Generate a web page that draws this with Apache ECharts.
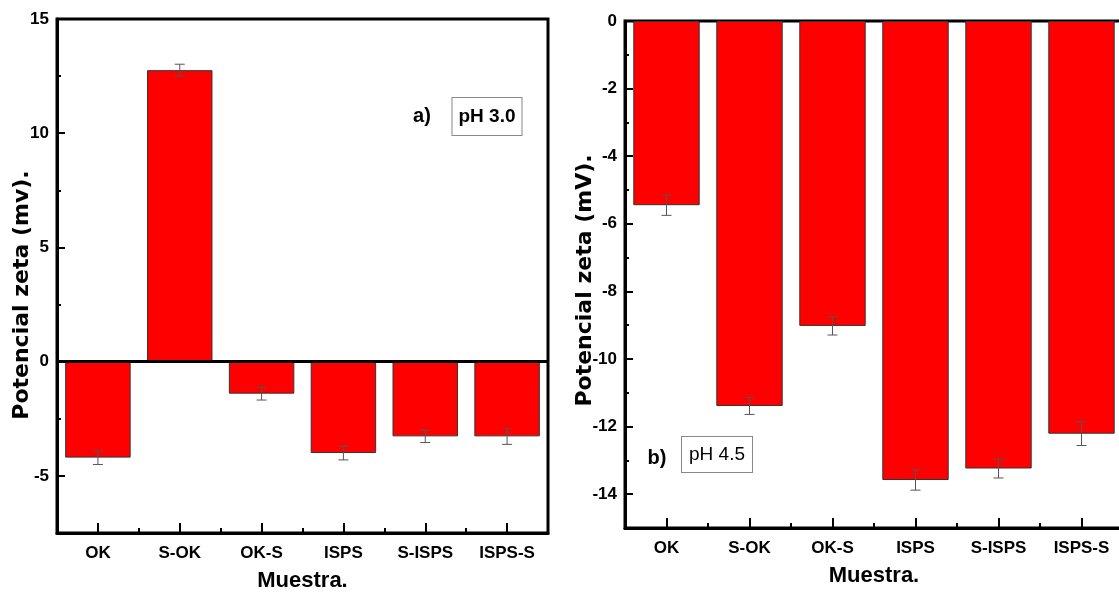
<!DOCTYPE html>
<html>
<head>
<meta charset="utf-8">
<script src="https://cdn.jsdelivr.net/npm/echarts@6/dist/echarts.min.js"></script>
<style>
html,body{margin:0;padding:0;background:#fff;}
#chart{width:1119px;height:597px;}
</style>
</head>
<body>
<div id="chart"></div>
<script>
// ---- data ----
const categories = ['OK', 'S-OK', 'OK-S', 'ISPS', 'S-ISPS', 'ISPS-S'];
const zetaPH30 = [-4.2, 12.76, -1.4, -4.0, -3.27, -3.27];
const errPH30  = [0.3, 0.26, 0.28, 0.3, 0.27, 0.35];
const zetaPH45 = [-5.45, -11.39, -9.02, -13.58, -13.24, -12.21];
const errPH45  = [0.3, 0.25, 0.27, 0.3, 0.28, 0.35];
const yTicksA = [-5, 0, 5, 10, 15];
const yTicksB = [0, -2, -4, -6, -8, -10, -12, -14];

const NARROW = '"Liberation Sans",Arial,sans-serif';
const WIDE = '"DejaVu Sans",Verdana,sans-serif';

const chart = echarts.init(document.getElementById('chart'), null, {renderer: 'canvas'});

function errRender(params, api) {
  const x = api.value(0), v = api.value(1), e = api.value(2);
  const hi = api.coord([x, v + e]);
  const lo = api.coord([x, v - e]);
  const h = 5;
  const st = {stroke: '#555', lineWidth: 1};
  return {type: 'group', children: [
    {type: 'line', shape: {x1: hi[0], y1: hi[1], x2: lo[0], y2: lo[1]}, style: st},
    {type: 'line', shape: {x1: hi[0] - h, y1: hi[1], x2: hi[0] + h, y2: hi[1]}, style: st},
    {type: 'line', shape: {x1: lo[0] - h, y1: lo[1], x2: lo[0] + h, y2: lo[1]}, style: st}
  ]};
}

function catAxes(gi) {
  return [
    {
      type: 'category', gridIndex: gi, data: categories, position: 'bottom',
      axisLine: {show: true, onZero: false, lineStyle: {color: '#000', width: 3}},
      axisTick: {show: true, inside: true, alignWithLabel: true, length: 10, lineStyle: {color: '#000', width: 2}},
      axisLabel: {color: '#000', fontFamily: NARROW, fontWeight: 'bold', fontSize: 17, margin: 12},
      name: 'Muestra.', nameLocation: 'middle', nameGap: 37, nameMoveOverlap: false,
      nameTextStyle: {color: '#000', fontFamily: NARROW, fontWeight: 'bold', fontSize: 22},
      splitLine: {show: false}
    },
    {
      type: 'category', gridIndex: gi, data: categories, position: 'bottom',
      axisLine: {show: false, onZero: false},
      axisTick: {show: true, inside: true, alignWithLabel: false, interval: 0, length: 5, lineStyle: {color: '#000', width: 2}},
      axisLabel: {show: false}, splitLine: {show: false}
    }
  ];
}

const option = {
  animation: false,
  backgroundColor: '#fff',
  grid: [
    {left: 57, top: 19, width: 491, height: 514, show: true, borderColor: '#000', borderWidth: 3,
     backgroundColor: 'transparent', outerBoundsMode: 'none'},
    {left: 625, top: 21, width: 498, height: 507, show: true, borderColor: '#000', borderWidth: 3,
     backgroundColor: 'transparent', outerBoundsMode: 'none'}
  ],
  xAxis: catAxes(0).concat(catAxes(1)),
  yAxis: [
    { // left chart: labels + major ticks
      type: 'value', gridIndex: 0, position: 'left', min: -7.5, max: 15, minInterval: 5, maxInterval: 5,
      axisLine: {show: true, lineStyle: {color: '#000', width: 3}},
      axisTick: {show: true, inside: true, length: 8, lineStyle: {color: '#000', width: 2}},
      axisLabel: {color: '#000', fontFamily: NARROW, fontWeight: 'bold', fontSize: 17, margin: 8,
        showMinLabel: false, formatter: v => yTicksA.includes(v) ? String(v) : ''},
      splitLine: {show: false},
      name: 'Potencial zeta (mv).', nameLocation: 'middle', nameGap: 24, nameRotate: 90, nameMoveOverlap: false,
      nameTextStyle: {color: '#000', fontFamily: WIDE, fontWeight: 'bold', fontSize: 22, padding: [0, 38, 0, 0]}
    },
    { // left chart: minor ticks
      type: 'value', gridIndex: 0, position: 'left', min: -7.5, max: 15, interval: 2.5,
      axisLine: {show: false}, axisLabel: {show: false}, splitLine: {show: false},
      axisTick: {show: true, inside: true, length: 4, lineStyle: {color: '#000', width: 2}}
    },
    { // right chart: labels + major ticks
      type: 'value', gridIndex: 1, position: 'left', min: -15, max: 0, minInterval: 2, maxInterval: 2,
      axisLine: {show: true, lineStyle: {color: '#000', width: 3}},
      axisTick: {show: true, inside: true, length: 8, lineStyle: {color: '#000', width: 2}},
      axisLabel: {color: '#000', fontFamily: NARROW, fontWeight: 'bold', fontSize: 17, margin: 8,
        showMinLabel: false, formatter: v => yTicksB.includes(v) ? String(v) : ''},
      splitLine: {show: false},
      name: 'Potencial zeta (mV).', nameLocation: 'middle', nameGap: 29, nameRotate: 90, nameMoveOverlap: false,
      nameTextStyle: {color: '#000', fontFamily: WIDE, fontWeight: 'bold', fontSize: 22, padding: [0, 12, 0, 0]}
    },
    { // right chart: minor ticks
      type: 'value', gridIndex: 1, position: 'left', min: -15, max: 0, interval: 1,
      axisLine: {show: false}, axisLabel: {show: false}, splitLine: {show: false},
      axisTick: {show: true, inside: true, length: 4, lineStyle: {color: '#000', width: 2}}
    }
  ],
  series: [
    {
      type: 'bar', xAxisIndex: 0, yAxisIndex: 0, data: zetaPH30, barCategoryGap: '20%',
      itemStyle: {color: '#ff0000', borderColor: '#333', borderWidth: 1},
      markLine: {silent: true, symbol: ['none', 'none'], label: {show: false},
        lineStyle: {color: '#000', width: 3, type: 'solid'}, data: [{yAxis: 0}]}
    },
    {
      type: 'custom', xAxisIndex: 0, yAxisIndex: 0, z: 5, renderItem: errRender,
      encode: {x: 0, y: 1},
      data: categories.map((c, i) => [i, zetaPH30[i], errPH30[i]])
    },
    {
      type: 'bar', xAxisIndex: 2, yAxisIndex: 2, data: zetaPH45, barCategoryGap: '20%',
      itemStyle: {color: '#ff0000', borderColor: '#333', borderWidth: 1}
    },
    {
      type: 'custom', xAxisIndex: 2, yAxisIndex: 2, z: 5, renderItem: errRender,
      encode: {x: 0, y: 1},
      data: categories.map((c, i) => [i, zetaPH45[i], errPH45[i]])
    }
  ],
  graphic: [
    {type: 'text', x: 422, y: 116, style: {text: 'a)', font: 'bold 20px ' + NARROW, fill: '#000',
      align: 'center', verticalAlign: 'middle'}},
    {type: 'text', x: 487, y: 116.5, style: {text: 'pH 3.0', font: 'bold 19px ' + NARROW, fill: '#000',
      align: 'center', verticalAlign: 'middle', backgroundColor: '#fff', borderColor: '#888', borderWidth: 1, padding: [9, 6, 9, 6]}},
    {type: 'text', x: 657, y: 458, style: {text: 'b)', font: 'bold 20px ' + NARROW, fill: '#000',
      align: 'center', verticalAlign: 'middle'}},
    {type: 'text', x: 717, y: 454.5, style: {text: 'pH 4.5', font: '19px ' + NARROW, fill: '#000',
      align: 'center', verticalAlign: 'middle', backgroundColor: '#fff', borderColor: '#888', borderWidth: 1, padding: [8, 7, 8, 7]}}
  ]
};
chart.setOption(option);
</script>
</body>
</html>
